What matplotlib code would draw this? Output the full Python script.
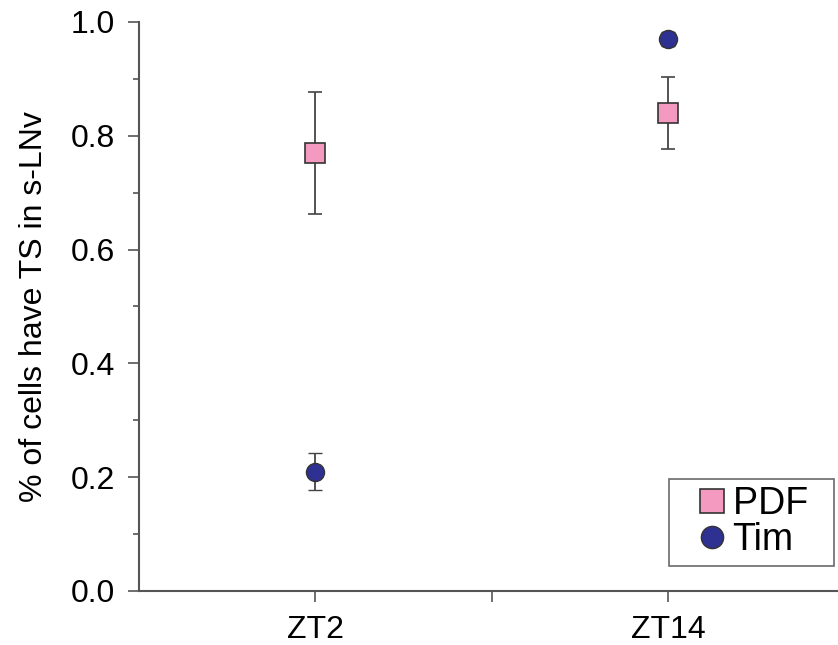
import matplotlib
matplotlib.use("Agg")
import matplotlib.pyplot as plt
from matplotlib.ticker import MultipleLocator, FormatStrFormatter
from matplotlib.lines import Line2D

plt.rcParams['font.family'] = ['Liberation Sans', 'DejaVu Sans']

# data
timepoints = ['ZT2', 'ZT14']
x_pos = [1, 3]
pdf_vals = [0.77, 0.84]
pdf_err = [0.107, 0.063]
tim_vals = [0.21, 0.97]
tim_err = [0.033, 0.013]

pink = '#F49AC1'
navy = '#2E3192'
axcol = '#555555'

fig = plt.figure(figsize=(8.38, 6.45), dpi=100)
ax = fig.add_axes([139 / 838, 1 - 591 / 645, 1 - 139 / 838, (591 - 22) / 645])

ax.errorbar(x_pos, pdf_vals, yerr=pdf_err, fmt='s', color=pink, ms=14,
            mec='#333333', mew=1.2, ecolor='#444444', elinewidth=1.3,
            capsize=5, capthick=1.3, zorder=3)
ax.errorbar(x_pos, tim_vals, yerr=tim_err, fmt='o', color=navy, ms=13,
            mec='#333333', mew=1.0, ecolor='#444444', elinewidth=1.3,
            capsize=5, capthick=1.3, zorder=3)

ax.set_xlim(0, (838 - 139) / 176.3)
ax.set_ylim(0, 1.0)
ax.set_xticks([1, 2, 3])
ax.set_xticklabels([timepoints[0], '', timepoints[1]])
ax.yaxis.set_major_locator(MultipleLocator(0.2))
ax.yaxis.set_minor_locator(MultipleLocator(0.1))
ax.yaxis.set_major_formatter(FormatStrFormatter('%.1f'))

for s in ['top', 'right']:
    ax.spines[s].set_visible(False)
for s in ['left', 'bottom']:
    ax.spines[s].set_color(axcol)
    ax.spines[s].set_linewidth(1.5)

ax.tick_params(axis='both', which='major', length=8, width=1.2, color=axcol,
               labelsize=23)
ax.tick_params(axis='y', which='major', pad=9.5)
ax.tick_params(axis='y', which='minor', length=4.5, width=1.2, color=axcol)
ax.tick_params(axis='x', which='major', pad=9)

ax.set_ylabel('% of cells have TS in s-LNv', fontsize=23, labelpad=15)

handles = [
    Line2D([], [], ls='none', marker='s', ms=17, mfc=pink, mec='#333333', mew=1.2),
    Line2D([], [], ls='none', marker='o', ms=16, mfc=navy, mec='#333333', mew=1.0),
]
leg = ax.legend(handles, ['PDF\u2002', 'Tim'], loc='lower right',
                bbox_to_anchor=(1.0 - 4 / 699, (591 - 566) / 569),
                fontsize=27, frameon=True, fancybox=False, handlelength=1.9,
                handletextpad=-0.4, borderpad=0.2, labelspacing=0.0,
                borderaxespad=0)
leg.get_frame().set_edgecolor('#444444')
leg.get_frame().set_linewidth(1.2)

fig.savefig('out.png', dpi=100)
